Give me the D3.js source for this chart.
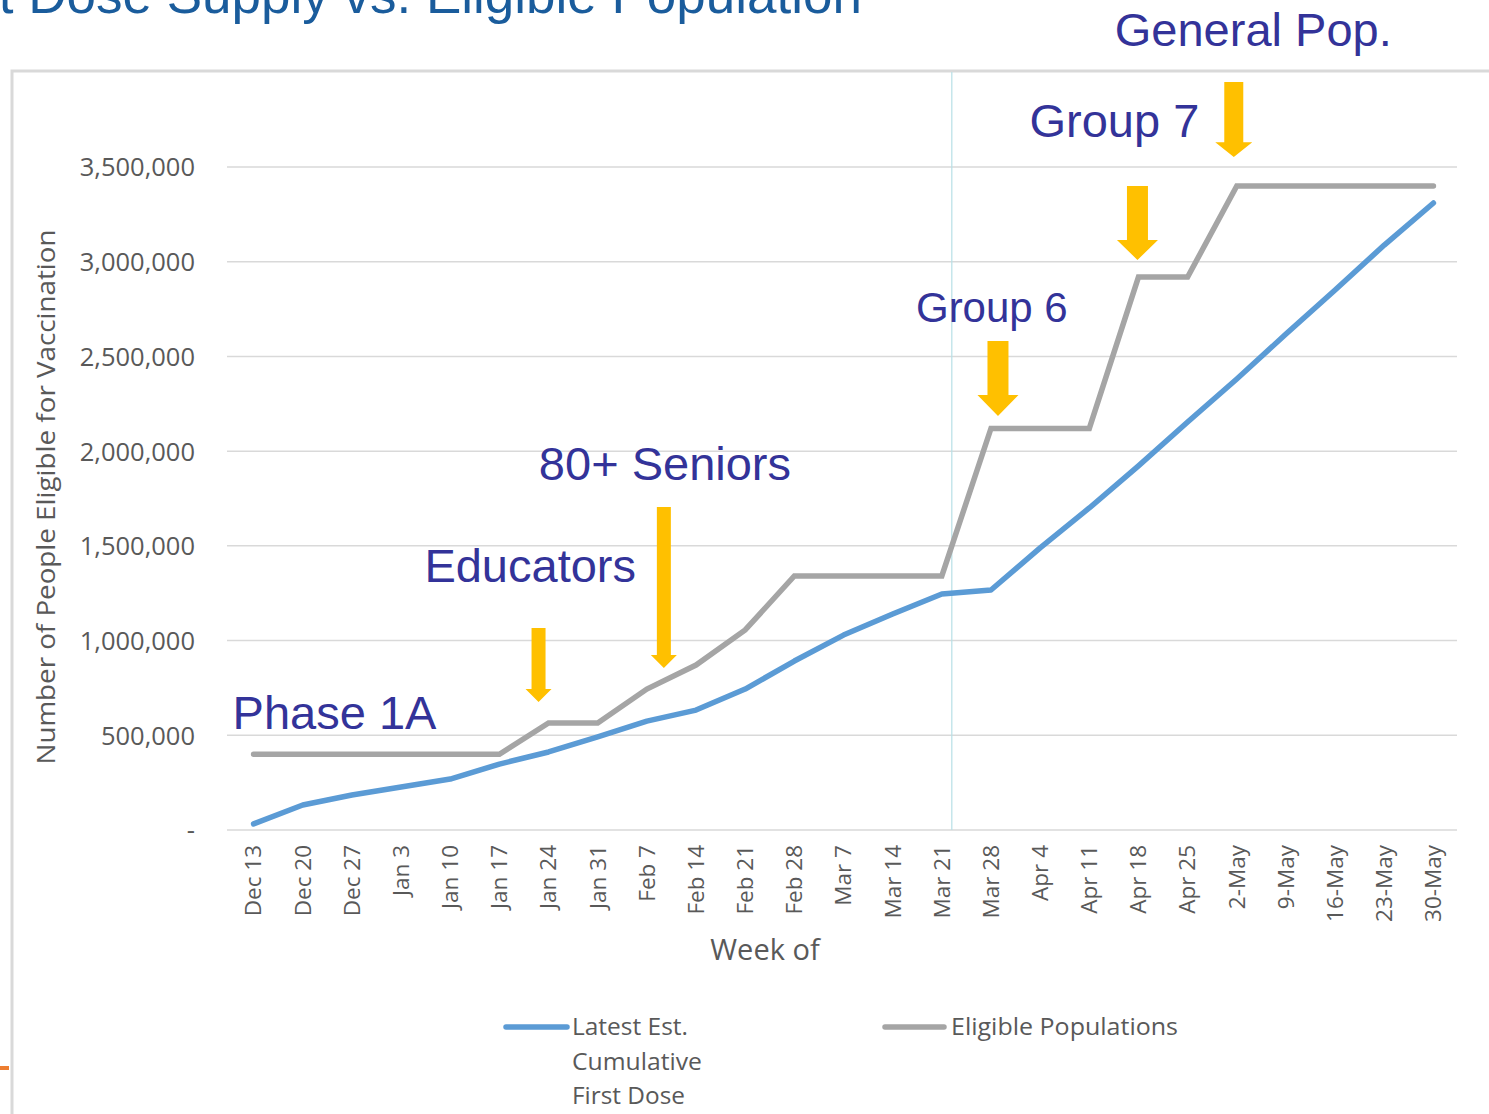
<!DOCTYPE html>
<html><head><meta charset="utf-8">
<script src="https://cdn.jsdelivr.net/npm/d3@7"></script>
<style>html,body{margin:0;padding:0;background:#fff;overflow:hidden}</style>
</head><body>
<svg id="c" width="1489" height="1114"></svg>
<script>
const weeks = ["Dec 13","Dec 20","Dec 27","Jan 3","Jan 10","Jan 17","Jan 24","Jan 31","Feb 7","Feb 14","Feb 21","Feb 28","Mar 7","Mar 14","Mar 21","Mar 28","Apr 4","Apr 11","Apr 18","Apr 25","2-May","9-May","16-May","23-May","30-May"];
const firstDose = [32000,132000,185000,227000,269000,348000,412000,491000,575000,633000,744000,892000,1029000,1140000,1246000,1267000,1489000,1700000,1922000,2154000,2381000,2618000,2851000,3088000,3310000];
const eligible = [400000,400000,400000,400000,400000,400000,565000,565000,744000,871000,1056000,1341000,1341000,1341000,1341000,2120000,2120000,2120000,2919000,2919000,3400000,3400000,3400000,3400000,3400000];
const yTicks = [0,500000,1000000,1500000,2000000,2500000,3000000,3500000];
const seriesNames = ["Latest Est. Cumulative First Dose","Eligible Populations"];
const annotations = [
  {label:"Phase 1A", cat:"Dec 13", lx:-21, ly:729, size:47},
  {label:"Educators", cat:"Jan 17", lx:-75, ly:582, size:47},
  {label:"80+ Seniors", cat:"Feb 7", lx:-108, ly:480, size:47},
  {label:"Group 6", cat:"Mar 28", lx:-75, ly:322, size:42},
  {label:"Group 7", cat:"Apr 18", lx:-109, ly:137, size:47},
  {label:"General Pop.", cat:"2-May", lx:-122, ly:46, size:47}
];
const arrows = [
  {cat:"Jan 24", dx:-10, top:1066000, head:744000, tip:676000, shaft:14, hw:26},
  {cat:"Feb 7", dx:17, top:1705000, head:924000, tip:855000, shaft:14, hw:26},
  {cat:"Mar 28", dx:7, top:2581000, head:2296000, tip:2185000, shaft:21, hw:41},
  {cat:"Apr 18", dx:-1, top:3400000, head:3115000, tip:3009000, shaft:21, hw:41},
  {cat:"2-May", dx:-3, top:3949000, head:3630000, tip:3553000, shaft:19, hw:37}
];

const svg = d3.select("#c");
const L = 227, R = 1457, T = 167, B = 830;
const x = d3.scaleBand().domain(weeks).range([229,1458]).padding(0);
const cx = d => x(d) + x.bandwidth()/2;
const y = d3.scaleLinear().domain([0,3500000]).range([B,T]);

// title (clipped at top, as in the slide)
svg.append("text").attr("x",862).attr("y",13).attr("text-anchor","end")
  .attr("font-family","Liberation Sans, Arial, sans-serif").attr("font-size",53)
  .attr("fill","#1a5c9c").text("First Dose Supply vs. Eligible Population");

// frame
svg.append("rect").attr("x",12).attr("y",71).attr("width",1500).attr("height",1100)
  .attr("fill","#fff").attr("stroke","#d9d9d9").attr("stroke-width",3);
svg.append("rect").attr("x",0).attr("y",1066).attr("width",9).attr("height",4).attr("fill","#ed7d31");

// gridlines
svg.append("g").selectAll("line").data(yTicks).join("line")
  .attr("x1",L).attr("x2",R).attr("y1",d=>y(d)).attr("y2",d=>y(d))
  .attr("stroke","#d9d9d9").attr("stroke-width",1.5);

// y axis
const yAxis = d3.axisLeft(y).tickValues(yTicks).tickSize(0).tickPadding(0)
  .tickFormat(d => d===0 ? "-" : d3.format(",")(d));
const gy = svg.append("g").attr("transform","translate(195,0)").call(yAxis);
gy.select(".domain").remove();
gy.selectAll("text").attr("font-family","Open Sans, sans-serif").attr("font-size",25.5)
  .attr("fill","#595959").attr("dy","0.35em");

// x axis
const xAxis = d3.axisBottom(x).tickSize(0).tickPadding(0);
const gx = svg.append("g").attr("transform",`translate(0,${B})`).call(xAxis);
gx.select(".domain").remove();
gx.selectAll("text").attr("font-family","Open Sans, sans-serif").attr("font-size",22.5)
  .attr("fill","#595959").attr("text-anchor","end")
  .attr("transform","translate(0,15) rotate(-90)").attr("x",0).attr("y",0).attr("dy","0.35em");

// current-week marker
svg.append("line").attr("x1",cx("Mar 21")+10).attr("x2",cx("Mar 21")+10)
  .attr("y1",72).attr("y2",B).attr("stroke","#b7dfe6").attr("stroke-width",1.2);

// axis titles
svg.append("text").attr("x",765).attr("y",960).attr("text-anchor","middle")
  .attr("font-family","Open Sans, sans-serif").attr("font-size",29).attr("fill","#595959").text("Week of");
svg.append("text").attr("transform","translate(55,497) rotate(-90)").attr("text-anchor","middle")
  .attr("font-family","Open Sans, sans-serif").attr("font-size",26).attr("fill","#595959")
  .attr("textLength",535).attr("lengthAdjust","spacingAndGlyphs")
  .text("Number of People Eligible for Vaccination");

// lines
const line = d3.line().x((d,i)=>cx(weeks[i])).y(d=>y(d));
svg.append("path").datum(eligible).attr("d",line).attr("fill","none")
  .attr("stroke","#a5a5a5").attr("stroke-width",5.5).attr("stroke-linecap","round").attr("stroke-linejoin","miter");
svg.append("path").datum(firstDose).attr("d",line).attr("fill","none")
  .attr("stroke","#5b9bd5").attr("stroke-width",5.5).attr("stroke-linecap","round").attr("stroke-linejoin","round");

// arrows
svg.append("g").selectAll("path").data(arrows).join("path")
  .attr("fill","#ffc000")
  .attr("d", a => {
    const c = cx(a.cat)+a.dx, s=a.shaft/2, h=a.hw/2;
    const yt=y(a.top), yh=y(a.head), yp=y(a.tip);
    return `M${c-s},${yt}L${c+s},${yt}L${c+s},${yh}L${c+h},${yh}L${c},${yp}L${c-h},${yh}L${c-s},${yh}Z`;
  });

// labels
svg.append("g").selectAll("text").data(annotations).join("text")
  .attr("x",d=>cx(d.cat)+d.lx).attr("y",d=>d.ly)
  .attr("font-family","Liberation Sans, Arial, sans-serif").attr("font-size",d=>d.size)
  .attr("fill","#333399").text(d=>d.label);

// legend
const lg = svg.append("g").attr("font-family","Open Sans, sans-serif").attr("font-size",23).attr("fill","#595959");
lg.append("line").attr("x1",506).attr("x2",567).attr("y1",1027).attr("y2",1027)
  .attr("stroke","#5b9bd5").attr("stroke-width",5.5).attr("stroke-linecap","round");
const l1 = [["Latest Est.",116],["Cumulative",130],["First Dose",113]];
l1.forEach((t,i)=>lg.append("text").attr("x",572).attr("y",1035+i*34.5)
  .attr("textLength",t[1]).attr("lengthAdjust","spacingAndGlyphs").text(t[0]));
lg.append("line").attr("x1",885).attr("x2",944).attr("y1",1027).attr("y2",1027)
  .attr("stroke","#a5a5a5").attr("stroke-width",5.5).attr("stroke-linecap","round");
lg.append("text").attr("x",951).attr("y",1035).attr("textLength",227).attr("lengthAdjust","spacingAndGlyphs")
  .text(seriesNames[1]);
</script>
</body></html>
